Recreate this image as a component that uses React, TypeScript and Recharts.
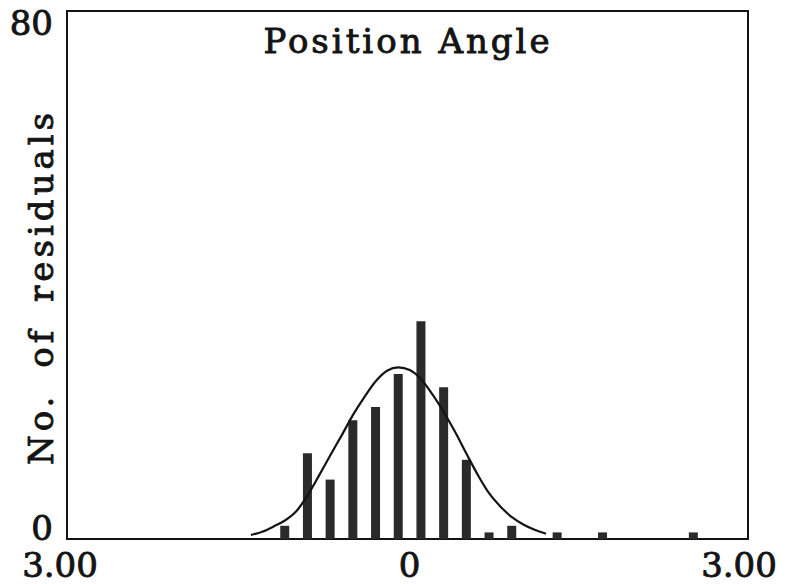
import { Bar, ComposedChart, Line, ReferenceArea, XAxis, YAxis } from 'recharts'

// histogram bins (bin centre, count)
const binCenters = [-1.08, -0.88, -0.68, -0.48, -0.28, -0.08, 0.12, 0.32, 0.52, 0.72, 0.92, 1.32, 1.72, 2.52]
const binCounts = [2, 13, 9, 18, 20, 25, 33, 23, 12, 1, 2, 1, 1, 1]

// fitted normal curve, sampled every 0.1 on the same grid as the bins
const curveX = [
  -1.38, -1.28, -1.18, -1.08, -0.98, -0.88, -0.78, -0.68, -0.58, -0.48, -0.38, -0.28, -0.18, -0.08,
  0.02, 0.12, 0.22, 0.32, 0.42, 0.52, 0.62, 0.72, 0.82, 0.92, 1.02, 1.12, 1.22
]
const curveY = [
  0.6, 1.1, 1.9, 2.8, 4.2, 6.6, 9.6, 12.7, 15.7, 18.8, 21.5, 23.9, 25.5, 26.0,
  25.6, 24.2, 21.9, 19.2, 16.2, 12.9, 9.7, 6.9, 4.9, 3.3, 2.2, 1.4, 0.8
]

const xTicks = [-3, 0, 3]
const xTickLabels = ['3.00', '0', '3.00']
const yTicks = [0, 80]

type Row = { x: number; count?: number; fit?: number }

function buildRows(): Row[] {
  const byKey = new Map<string, Row>()
  const get = (x: number) => {
    const key = x.toFixed(2)
    let row = byKey.get(key)
    if (!row) {
      row = { x }
      byKey.set(key, row)
    }
    return row
  }
  binCenters.forEach((x, i) => {
    get(x).count = binCounts[i]
  })
  curveX.forEach((x, i) => {
    get(x).fit = curveY[i]
  })
  return Array.from(byKey.values()).sort((a, b) => a.x - b.x)
}

const FONT = '"DejaVu Serif", serif'
const INK = '#141414'
const textStyle = { fontFamily: FONT, fontSize: 34, fill: INK, stroke: INK, strokeWidth: 0.9 }

function XTick({ x, y, index }: any) {
  const shift = index === 0 ? -7 : index === 2 ? -9 : 2
  return (
    <text x={x + shift} y={y} dy={30} textAnchor="middle" {...textStyle}>
      {xTickLabels[index]}
    </text>
  )
}

function YTick({ y, payload }: any) {
  const top = payload.value === 80
  return (
    <text x={53} y={y} dy={top ? 24 : 1} textAnchor="end" {...textStyle}>
      {payload.value}
    </text>
  )
}

export default function App() {
  const rows = buildRows()
  return (
    <div style={{ position: 'absolute', left: 0, top: 0, width: 789, height: 584, background: '#fff' }}>
      <ComposedChart width={789} height={584} data={rows} margin={{ top: 11, right: 41, bottom: 0, left: 0 }}>
        <XAxis
          dataKey="x"
          type="number"
          domain={[-3, 3]}
          ticks={xTicks}
          axisLine={false}
          tickLine={false}
          height={45}
          tick={<XTick />}
          interval={0}
        />
        <YAxis
          type="number"
          domain={[0, 80]}
          ticks={yTicks}
          axisLine={false}
          tickLine={false}
          width={67}
          tick={<YTick />}
        />
        <ReferenceArea x1={-3} x2={3} y1={0} y2={80} fill="none" stroke={INK} strokeWidth={2} />
        <Bar dataKey="count" fill="#2a2a2a" barSize={9} isAnimationActive={false} />
        <Line
          dataKey="fit"
          type="monotone"
          stroke={INK}
          strokeWidth={2.2}
          dot={false}
          connectNulls
          isAnimationActive={false}
        />
        <text x={408} y={53} textAnchor="middle" letterSpacing={3} {...textStyle}>
          Position Angle
        </text>
        <text
          x={53}
          y={287}
          transform="rotate(-90 53 287)"
          textAnchor="middle"
          letterSpacing={4}
          wordSpacing={10}
          {...textStyle}
        >
          No. of residuals
        </text>
      </ComposedChart>
    </div>
  )
}
